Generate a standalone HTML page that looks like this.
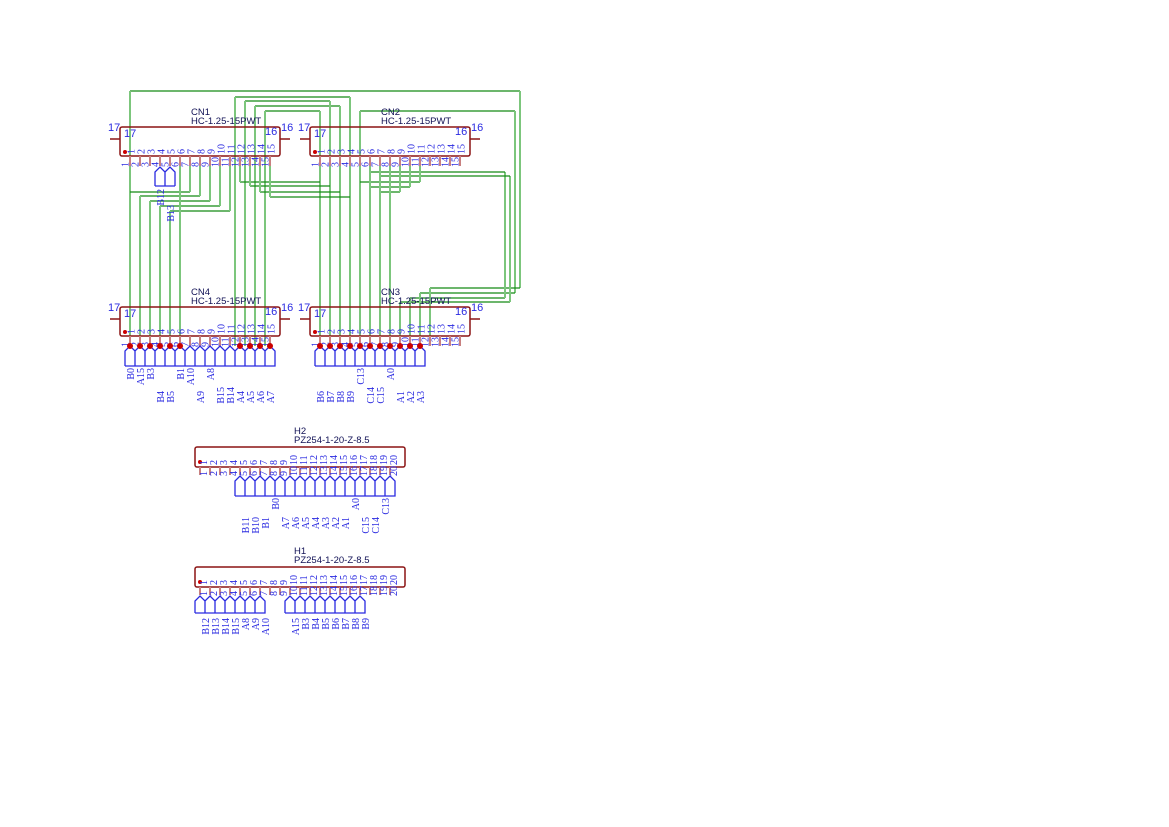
<!DOCTYPE html>
<html><head><meta charset="utf-8"><style>
body{margin:0;background:#fff}
svg{display:block}
.v{stroke:#7cc67c;stroke-width:2;fill:none}
.h{stroke:#158a15;stroke-width:1.3;fill:none}
.box{fill:none;stroke:#8b1414;stroke-width:1.5}
.st{stroke:#c88080;stroke-width:2}
.rs{stroke:#8b1414;stroke-width:1.5}
.n{font-family:"Liberation Serif",serif;font-size:10px;fill:#2a2ae0}
.l{font-family:"Liberation Serif",serif;font-size:10px;fill:#2a2ae0}
.s{font-family:"Liberation Sans",sans-serif;font-size:11px;fill:#2a2ae0}
.t{font-family:"Liberation Sans",sans-serif;font-size:9.5px;fill:#111155}
.f{fill:none;stroke:#2a2ae0;stroke-width:1.3}
.d{fill:#cc0000}
</style></head><body>
<svg width="1169" height="827" viewBox="0 0 1169 827" xmlns="http://www.w3.org/2000/svg">
<!-- wires -->
<g>
<path class="h" d="M130 91H520M235 97H350M245 101H330M255 106H340M265 111H320M360 111H515"/>
<path class="v" d="M130 91V346M520 91V288M235 97V346M350 97V346M245 101V346M330 101V346M255 106V346M340 106V346M265 111V346M320 111V346M360 111V346M515 111V293"/>
<path class="h" d="M430 288H520M420 293H515M410 298H505M400 302H510"/>
<path class="v" d="M430 288V346M420 293V346M410 298V346M400 302V346M505 172V298M510 176V302"/>
<path class="h" d="M370 172H505M380 176H510M360 182H420M370 187H410M380 192H400"/>
<path class="v" d="M370 156V346M380 156V346M390 156V346M420 156V182M410 156V187M400 156V192"/>
<path class="h" d="M240 182H320M250 186H330M260 192H340M270 197H350"/>
<path class="v" d="M240 156V182M250 156V186M260 156V192M270 156V197"/>
<path class="h" d="M130 192H190M140 196H200M150 201H210M160 206H220M170 211H230"/>
<path class="v" d="M190 156V192M200 156V196M210 156V201M220 156V206M230 156V211M140 196V346M150 201V346M160 206V346M170 211V346M180 156V346"/>
</g>

<!-- CN1 -->
<text class="t" x="191" y="115">CN1</text><text class="t" x="191" y="124">HC-1.25-15PWT</text>
<rect class="box" x="120" y="127" width="160" height="29" rx="2"/>
<line class="rs" x1="110" y1="139" x2="120" y2="139"/><line class="rs" x1="280" y1="139" x2="290" y2="139"/>
<text class="s" x="108" y="131">17</text><text class="s" x="281" y="131">16</text>
<text class="s" x="124" y="137">17</text><text class="s" x="265" y="135">16</text>
<circle class="d" cx="125" cy="152" r="2"/>
<g class="st"><path d="M130 156V166M140 156V166M150 156V166M160 156V166M170 156V166M180 156V166M190 156V166M200 156V166M210 156V166M220 156V166M230 156V166M240 156V166M250 156V166M260 156V166M270 156V166"/></g>
<g class="n">
<text transform="translate(134.5,154) rotate(-90)">1</text><text transform="translate(144.5,154) rotate(-90)">2</text><text transform="translate(154.5,154) rotate(-90)">3</text><text transform="translate(164.5,154) rotate(-90)">4</text><text transform="translate(174.5,154) rotate(-90)">5</text><text transform="translate(184.5,154) rotate(-90)">6</text><text transform="translate(194.5,154) rotate(-90)">7</text><text transform="translate(204.5,154) rotate(-90)">8</text><text transform="translate(214.5,154) rotate(-90)">9</text><text transform="translate(224.5,154) rotate(-90)">10</text><text transform="translate(234.5,154) rotate(-90)">11</text><text transform="translate(244.5,154) rotate(-90)">12</text><text transform="translate(254.5,154) rotate(-90)">13</text><text transform="translate(264.5,154) rotate(-90)">14</text><text transform="translate(274.5,154) rotate(-90)">15</text>
<text transform="translate(128.5,167) rotate(-90)">1</text><text transform="translate(138.5,167) rotate(-90)">2</text><text transform="translate(148.5,167) rotate(-90)">3</text><text transform="translate(158.5,167) rotate(-90)">4</text><text transform="translate(168.5,167) rotate(-90)">5</text><text transform="translate(178.5,167) rotate(-90)">6</text><text transform="translate(188.5,167) rotate(-90)">7</text><text transform="translate(198.5,167) rotate(-90)">8</text><text transform="translate(208.5,167) rotate(-90)">9</text><text transform="translate(218.5,167) rotate(-90)">10</text><text transform="translate(228.5,167) rotate(-90)">11</text><text transform="translate(238.5,167) rotate(-90)">12</text><text transform="translate(248.5,167) rotate(-90)">13</text><text transform="translate(258.5,167) rotate(-90)">14</text><text transform="translate(268.5,167) rotate(-90)">15</text>
</g>
<path class="f" d="M155 186V172L160 167L165 172V186M165 172L170 167L175 172V186M155 186H175"/>
<g class="l"><text transform="translate(164,189) rotate(-90)" text-anchor="end">B12</text><text transform="translate(174,205) rotate(-90)" text-anchor="end">B13</text></g>

<!-- CN2 -->
<text class="t" x="381" y="115">CN2</text><text class="t" x="381" y="124">HC-1.25-15PWT</text>
<rect class="box" x="310" y="127" width="160" height="29" rx="2"/>
<line class="rs" x1="300" y1="139" x2="310" y2="139"/><line class="rs" x1="470" y1="139" x2="480" y2="139"/>
<text class="s" x="298" y="131">17</text><text class="s" x="471" y="131">16</text>
<text class="s" x="314" y="137">17</text><text class="s" x="455" y="135">16</text>
<circle class="d" cx="315" cy="152" r="2"/>
<g class="st"><path d="M320 156V166M330 156V166M340 156V166M350 156V166M360 156V166M370 156V166M380 156V166M390 156V166M400 156V166M410 156V166M420 156V166M430 156V166M440 156V166M450 156V166M460 156V166"/></g>
<g class="n">
<text transform="translate(324.5,154) rotate(-90)">1</text><text transform="translate(334.5,154) rotate(-90)">2</text><text transform="translate(344.5,154) rotate(-90)">3</text><text transform="translate(354.5,154) rotate(-90)">4</text><text transform="translate(364.5,154) rotate(-90)">5</text><text transform="translate(374.5,154) rotate(-90)">6</text><text transform="translate(384.5,154) rotate(-90)">7</text><text transform="translate(394.5,154) rotate(-90)">8</text><text transform="translate(404.5,154) rotate(-90)">9</text><text transform="translate(414.5,154) rotate(-90)">10</text><text transform="translate(424.5,154) rotate(-90)">11</text><text transform="translate(434.5,154) rotate(-90)">12</text><text transform="translate(444.5,154) rotate(-90)">13</text><text transform="translate(454.5,154) rotate(-90)">14</text><text transform="translate(464.5,154) rotate(-90)">15</text>
<text transform="translate(318.5,167) rotate(-90)">1</text><text transform="translate(328.5,167) rotate(-90)">2</text><text transform="translate(338.5,167) rotate(-90)">3</text><text transform="translate(348.5,167) rotate(-90)">4</text><text transform="translate(358.5,167) rotate(-90)">5</text><text transform="translate(368.5,167) rotate(-90)">6</text><text transform="translate(378.5,167) rotate(-90)">7</text><text transform="translate(388.5,167) rotate(-90)">8</text><text transform="translate(398.5,167) rotate(-90)">9</text><text transform="translate(408.5,167) rotate(-90)">10</text><text transform="translate(418.5,167) rotate(-90)">11</text><text transform="translate(428.5,167) rotate(-90)">12</text><text transform="translate(438.5,167) rotate(-90)">13</text><text transform="translate(448.5,167) rotate(-90)">14</text><text transform="translate(458.5,167) rotate(-90)">15</text>
</g>

<!-- CN4 -->
<text class="t" x="191" y="295">CN4</text><text class="t" x="191" y="304">HC-1.25-15PWT</text>
<rect class="box" x="120" y="307" width="160" height="29" rx="2"/>
<line class="rs" x1="110" y1="319" x2="120" y2="319"/><line class="rs" x1="280" y1="319" x2="290" y2="319"/>
<text class="s" x="108" y="311">17</text><text class="s" x="281" y="311">16</text>
<text class="s" x="124" y="317">17</text><text class="s" x="265" y="315">16</text>
<circle class="d" cx="125" cy="332" r="2"/>
<g class="st"><path d="M130 336V346M140 336V346M150 336V346M160 336V346M170 336V346M180 336V346M190 336V346M200 336V346M210 336V346M220 336V346M230 336V346M240 336V346M250 336V346M260 336V346M270 336V346"/></g>
<g class="n">
<text transform="translate(134.5,334) rotate(-90)">1</text><text transform="translate(144.5,334) rotate(-90)">2</text><text transform="translate(154.5,334) rotate(-90)">3</text><text transform="translate(164.5,334) rotate(-90)">4</text><text transform="translate(174.5,334) rotate(-90)">5</text><text transform="translate(184.5,334) rotate(-90)">6</text><text transform="translate(194.5,334) rotate(-90)">7</text><text transform="translate(204.5,334) rotate(-90)">8</text><text transform="translate(214.5,334) rotate(-90)">9</text><text transform="translate(224.5,334) rotate(-90)">10</text><text transform="translate(234.5,334) rotate(-90)">11</text><text transform="translate(244.5,334) rotate(-90)">12</text><text transform="translate(254.5,334) rotate(-90)">13</text><text transform="translate(264.5,334) rotate(-90)">14</text><text transform="translate(274.5,334) rotate(-90)">15</text>
<text transform="translate(128.5,347) rotate(-90)">1</text><text transform="translate(138.5,347) rotate(-90)">2</text><text transform="translate(148.5,347) rotate(-90)">3</text><text transform="translate(158.5,347) rotate(-90)">4</text><text transform="translate(168.5,347) rotate(-90)">5</text><text transform="translate(178.5,347) rotate(-90)">6</text><text transform="translate(188.5,347) rotate(-90)">7</text><text transform="translate(198.5,347) rotate(-90)">8</text><text transform="translate(208.5,347) rotate(-90)">9</text><text transform="translate(218.5,347) rotate(-90)">10</text><text transform="translate(228.5,347) rotate(-90)">11</text><text transform="translate(238.5,347) rotate(-90)">12</text><text transform="translate(248.5,347) rotate(-90)">13</text><text transform="translate(258.5,347) rotate(-90)">14</text><text transform="translate(268.5,347) rotate(-90)">15</text>
</g>
<path class="f" d="M125 366V351L130 346L135 351L140 346L145 351L150 346L155 351L160 346L165 351L170 346L175 351L180 346L185 351L190 346L195 351L200 346L205 351L210 346L215 351L220 346L225 351L230 346L235 351L240 346L245 351L250 346L255 351L260 346L265 351L270 346L275 351V366H125M135 351V366M145 351V366M155 351V366M165 351V366M175 351V366M185 351V366M195 351V366M205 351V366M215 351V366M225 351V366M235 351V366M245 351V366M255 351V366M265 351V366"/>
<g class="d"><circle cx="130" cy="346" r="3"/><circle cx="140" cy="346" r="3"/><circle cx="150" cy="346" r="3"/><circle cx="160" cy="346" r="3"/><circle cx="170" cy="346" r="3"/><circle cx="180" cy="346" r="3"/><circle cx="240" cy="346" r="3"/><circle cx="250" cy="346" r="3"/><circle cx="260" cy="346" r="3"/><circle cx="270" cy="346" r="3"/></g>
<g class="l" text-anchor="end">
<text transform="translate(134,368) rotate(-90)">B0</text><text transform="translate(144,368) rotate(-90)">A15</text><text transform="translate(154,368) rotate(-90)">B3</text><text transform="translate(164,391) rotate(-90)">B4</text><text transform="translate(174,391) rotate(-90)">B5</text><text transform="translate(184,368) rotate(-90)">B1</text><text transform="translate(194,368) rotate(-90)">A10</text><text transform="translate(204,391) rotate(-90)">A9</text><text transform="translate(214,368) rotate(-90)">A8</text><text transform="translate(224,387) rotate(-90)">B15</text><text transform="translate(234,387) rotate(-90)">B14</text><text transform="translate(244,391) rotate(-90)">A4</text><text transform="translate(254,391) rotate(-90)">A5</text><text transform="translate(264,391) rotate(-90)">A6</text><text transform="translate(274,391) rotate(-90)">A7</text>
</g>

<!-- CN3 -->
<text class="t" x="381" y="295">CN3</text><text class="t" x="381" y="304">HC-1.25-15PWT</text>
<rect class="box" x="310" y="307" width="160" height="29" rx="2"/>
<line class="rs" x1="300" y1="319" x2="310" y2="319"/><line class="rs" x1="470" y1="319" x2="480" y2="319"/>
<text class="s" x="298" y="311">17</text><text class="s" x="471" y="311">16</text>
<text class="s" x="314" y="317">17</text><text class="s" x="455" y="315">16</text>
<circle class="d" cx="315" cy="332" r="2"/>
<g class="st"><path d="M320 336V346M330 336V346M340 336V346M350 336V346M360 336V346M370 336V346M380 336V346M390 336V346M400 336V346M410 336V346M420 336V346M430 336V346M440 336V346M450 336V346M460 336V346"/></g>
<g class="n">
<text transform="translate(324.5,334) rotate(-90)">1</text><text transform="translate(334.5,334) rotate(-90)">2</text><text transform="translate(344.5,334) rotate(-90)">3</text><text transform="translate(354.5,334) rotate(-90)">4</text><text transform="translate(364.5,334) rotate(-90)">5</text><text transform="translate(374.5,334) rotate(-90)">6</text><text transform="translate(384.5,334) rotate(-90)">7</text><text transform="translate(394.5,334) rotate(-90)">8</text><text transform="translate(404.5,334) rotate(-90)">9</text><text transform="translate(414.5,334) rotate(-90)">10</text><text transform="translate(424.5,334) rotate(-90)">11</text><text transform="translate(434.5,334) rotate(-90)">12</text><text transform="translate(444.5,334) rotate(-90)">13</text><text transform="translate(454.5,334) rotate(-90)">14</text><text transform="translate(464.5,334) rotate(-90)">15</text>
<text transform="translate(318.5,347) rotate(-90)">1</text><text transform="translate(328.5,347) rotate(-90)">2</text><text transform="translate(338.5,347) rotate(-90)">3</text><text transform="translate(348.5,347) rotate(-90)">4</text><text transform="translate(358.5,347) rotate(-90)">5</text><text transform="translate(368.5,347) rotate(-90)">6</text><text transform="translate(378.5,347) rotate(-90)">7</text><text transform="translate(388.5,347) rotate(-90)">8</text><text transform="translate(398.5,347) rotate(-90)">9</text><text transform="translate(408.5,347) rotate(-90)">10</text><text transform="translate(418.5,347) rotate(-90)">11</text><text transform="translate(428.5,347) rotate(-90)">12</text><text transform="translate(438.5,347) rotate(-90)">13</text><text transform="translate(448.5,347) rotate(-90)">14</text><text transform="translate(458.5,347) rotate(-90)">15</text>
</g>
<path class="f" d="M315 366V351L320 346L325 351L330 346L335 351L340 346L345 351L350 346L355 351L360 346L365 351L370 346L375 351L380 346L385 351L390 346L395 351L400 346L405 351L410 346L415 351L420 346L425 351V366H315M325 351V366M335 351V366M345 351V366M355 351V366M365 351V366M375 351V366M385 351V366M395 351V366M405 351V366M415 351V366"/>
<g class="d"><circle cx="320" cy="346" r="3"/><circle cx="330" cy="346" r="3"/><circle cx="340" cy="346" r="3"/><circle cx="350" cy="346" r="3"/><circle cx="360" cy="346" r="3"/><circle cx="370" cy="346" r="3"/><circle cx="380" cy="346" r="3"/><circle cx="390" cy="346" r="3"/><circle cx="400" cy="346" r="3"/><circle cx="410" cy="346" r="3"/><circle cx="420" cy="346" r="3"/></g>
<g class="l" text-anchor="end">
<text transform="translate(324,391) rotate(-90)">B6</text><text transform="translate(334,391) rotate(-90)">B7</text><text transform="translate(344,391) rotate(-90)">B8</text><text transform="translate(354,391) rotate(-90)">B9</text><text transform="translate(364,368) rotate(-90)">C13</text><text transform="translate(374,387) rotate(-90)">C14</text><text transform="translate(384,387) rotate(-90)">C15</text><text transform="translate(394,368) rotate(-90)">A0</text><text transform="translate(404,391) rotate(-90)">A1</text><text transform="translate(414,391) rotate(-90)">A2</text><text transform="translate(424,391) rotate(-90)">A3</text>
</g>

<!-- H2 -->
<text class="t" x="294" y="434">H2</text><text class="t" x="294" y="443">PZ254-1-20-Z-8.5</text>
<rect class="box" x="195" y="447" width="210" height="20" rx="2"/>
<circle class="d" cx="200" cy="462" r="2"/>
<g class="st"><path d="M200 467V475M210 467V475M220 467V475M230 467V475M240 467V475M250 467V475M260 467V475M270 467V475M280 467V475M290 467V475M300 467V475M310 467V475M320 467V475M330 467V475M340 467V475M350 467V475M360 467V475M370 467V475M380 467V475M390 467V475"/></g>
<g class="n">
<text transform="translate(207,465) rotate(-90)">1</text><text transform="translate(217,465) rotate(-90)">2</text><text transform="translate(227,465) rotate(-90)">3</text><text transform="translate(237,465) rotate(-90)">4</text><text transform="translate(247,465) rotate(-90)">5</text><text transform="translate(257,465) rotate(-90)">6</text><text transform="translate(267,465) rotate(-90)">7</text><text transform="translate(277,465) rotate(-90)">8</text><text transform="translate(287,465) rotate(-90)">9</text><text transform="translate(297,465) rotate(-90)">10</text><text transform="translate(307,465) rotate(-90)">11</text><text transform="translate(317,465) rotate(-90)">12</text><text transform="translate(327,465) rotate(-90)">13</text><text transform="translate(337,465) rotate(-90)">14</text><text transform="translate(347,465) rotate(-90)">15</text><text transform="translate(357,465) rotate(-90)">16</text><text transform="translate(367,465) rotate(-90)">17</text><text transform="translate(377,465) rotate(-90)">18</text><text transform="translate(387,465) rotate(-90)">19</text><text transform="translate(397,465) rotate(-90)">20</text>
<text transform="translate(207,476) rotate(-90)">1</text><text transform="translate(217,476) rotate(-90)">2</text><text transform="translate(227,476) rotate(-90)">3</text><text transform="translate(237,476) rotate(-90)">4</text><text transform="translate(247,476) rotate(-90)">5</text><text transform="translate(257,476) rotate(-90)">6</text><text transform="translate(267,476) rotate(-90)">7</text><text transform="translate(277,476) rotate(-90)">8</text><text transform="translate(287,476) rotate(-90)">9</text><text transform="translate(297,476) rotate(-90)">10</text><text transform="translate(307,476) rotate(-90)">11</text><text transform="translate(317,476) rotate(-90)">12</text><text transform="translate(327,476) rotate(-90)">13</text><text transform="translate(337,476) rotate(-90)">14</text><text transform="translate(347,476) rotate(-90)">15</text><text transform="translate(357,476) rotate(-90)">16</text><text transform="translate(367,476) rotate(-90)">17</text><text transform="translate(377,476) rotate(-90)">18</text><text transform="translate(387,476) rotate(-90)">19</text><text transform="translate(397,476) rotate(-90)">20</text>
</g>
<path class="f" d="M235 496V481L240 476L245 481L250 476L255 481L260 476L265 481L270 476L275 481L280 476L285 481L290 476L295 481L300 476L305 481L310 476L315 481L320 476L325 481L330 476L335 481L340 476L345 481L350 476L355 481L360 476L365 481L370 476L375 481L380 476L385 481L390 476L395 481V496H235M245 481V496M255 481V496M265 481V496M275 481V496M285 481V496M295 481V496M305 481V496M315 481V496M325 481V496M335 481V496M345 481V496M355 481V496M365 481V496M375 481V496M385 481V496"/>
<g class="l" text-anchor="end">
<text transform="translate(249,517) rotate(-90)">B11</text><text transform="translate(259,517) rotate(-90)">B10</text><text transform="translate(269,517) rotate(-90)">B1</text><text transform="translate(279,498) rotate(-90)">B0</text><text transform="translate(289,517) rotate(-90)">A7</text><text transform="translate(299,517) rotate(-90)">A6</text><text transform="translate(309,517) rotate(-90)">A5</text><text transform="translate(319,517) rotate(-90)">A4</text><text transform="translate(329,517) rotate(-90)">A3</text><text transform="translate(339,517) rotate(-90)">A2</text><text transform="translate(349,517) rotate(-90)">A1</text><text transform="translate(359,498) rotate(-90)">A0</text><text transform="translate(369,517) rotate(-90)">C15</text><text transform="translate(379,517) rotate(-90)">C14</text><text transform="translate(389,498) rotate(-90)">C13</text>
</g>

<!-- H1 -->
<text class="t" x="294" y="554">H1</text><text class="t" x="294" y="563">PZ254-1-20-Z-8.5</text>
<rect class="box" x="195" y="567" width="210" height="20" rx="2"/>
<circle class="d" cx="200" cy="582" r="2"/>
<g class="st"><path d="M200 587V595M210 587V595M220 587V595M230 587V595M240 587V595M250 587V595M260 587V595M270 587V595M280 587V595M290 587V595M300 587V595M310 587V595M320 587V595M330 587V595M340 587V595M350 587V595M360 587V595M370 587V595M380 587V595M390 587V595"/></g>
<g class="n">
<text transform="translate(207,585) rotate(-90)">1</text><text transform="translate(217,585) rotate(-90)">2</text><text transform="translate(227,585) rotate(-90)">3</text><text transform="translate(237,585) rotate(-90)">4</text><text transform="translate(247,585) rotate(-90)">5</text><text transform="translate(257,585) rotate(-90)">6</text><text transform="translate(267,585) rotate(-90)">7</text><text transform="translate(277,585) rotate(-90)">8</text><text transform="translate(287,585) rotate(-90)">9</text><text transform="translate(297,585) rotate(-90)">10</text><text transform="translate(307,585) rotate(-90)">11</text><text transform="translate(317,585) rotate(-90)">12</text><text transform="translate(327,585) rotate(-90)">13</text><text transform="translate(337,585) rotate(-90)">14</text><text transform="translate(347,585) rotate(-90)">15</text><text transform="translate(357,585) rotate(-90)">16</text><text transform="translate(367,585) rotate(-90)">17</text><text transform="translate(377,585) rotate(-90)">18</text><text transform="translate(387,585) rotate(-90)">19</text><text transform="translate(397,585) rotate(-90)">20</text>
<text transform="translate(207,596) rotate(-90)">1</text><text transform="translate(217,596) rotate(-90)">2</text><text transform="translate(227,596) rotate(-90)">3</text><text transform="translate(237,596) rotate(-90)">4</text><text transform="translate(247,596) rotate(-90)">5</text><text transform="translate(257,596) rotate(-90)">6</text><text transform="translate(267,596) rotate(-90)">7</text><text transform="translate(277,596) rotate(-90)">8</text><text transform="translate(287,596) rotate(-90)">9</text><text transform="translate(297,596) rotate(-90)">10</text><text transform="translate(307,596) rotate(-90)">11</text><text transform="translate(317,596) rotate(-90)">12</text><text transform="translate(327,596) rotate(-90)">13</text><text transform="translate(337,596) rotate(-90)">14</text><text transform="translate(347,596) rotate(-90)">15</text><text transform="translate(357,596) rotate(-90)">16</text><text transform="translate(367,596) rotate(-90)">17</text><text transform="translate(377,596) rotate(-90)">18</text><text transform="translate(387,596) rotate(-90)">19</text><text transform="translate(397,596) rotate(-90)">20</text>
</g>
<path class="f" d="M195 613V601L200 596L205 601L210 596L215 601L220 596L225 601L230 596L235 601L240 596L245 601L250 596L255 601L260 596L265 601V613H195M205 601V613M215 601V613M225 601V613M235 601V613M245 601V613M255 601V613"/>
<path class="f" d="M285 613V601L290 596L295 601L300 596L305 601L310 596L315 601L320 596L325 601L330 596L335 601L340 596L345 601L350 596L355 601L360 596L365 601V613H285M295 601V613M305 601V613M315 601V613M325 601V613M335 601V613M345 601V613M355 601V613"/>
<g class="l" text-anchor="end">
<text transform="translate(209,618) rotate(-90)">B12</text><text transform="translate(219,618) rotate(-90)">B13</text><text transform="translate(229,618) rotate(-90)">B14</text><text transform="translate(239,618) rotate(-90)">B15</text><text transform="translate(249,618) rotate(-90)">A8</text><text transform="translate(259,618) rotate(-90)">A9</text><text transform="translate(269,618) rotate(-90)">A10</text>
<text transform="translate(299,618) rotate(-90)">A15</text><text transform="translate(309,618) rotate(-90)">B3</text><text transform="translate(319,618) rotate(-90)">B4</text><text transform="translate(329,618) rotate(-90)">B5</text><text transform="translate(339,618) rotate(-90)">B6</text><text transform="translate(349,618) rotate(-90)">B7</text><text transform="translate(359,618) rotate(-90)">B8</text><text transform="translate(369,618) rotate(-90)">B9</text>
</g>
</svg>
</body></html>
